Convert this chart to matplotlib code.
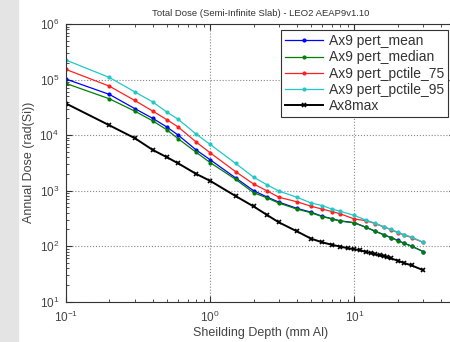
import numpy as np
import matplotlib
matplotlib.use('Agg')
import matplotlib.pyplot as plt
from matplotlib.patches import Rectangle

plt.rcParams['font.family'] = ['Liberation Sans', 'DejaVu Sans']
plt.rcParams['mathtext.fontset'] = 'custom'
plt.rcParams['mathtext.rm'] = 'Liberation Sans'

# depths (mm Al)
depth_ae9 = [0.1, 0.2, 0.3, 0.4, 0.5, 0.6, 0.8, 1, 1.5, 2, 2.5, 3, 4, 5, 6, 7, 8,
             10, 12, 14, 16, 18, 20, 22, 25, 30]
depth_ae8 = [0.1, 0.2, 0.3, 0.4, 0.5, 0.6, 0.8, 1, 1.5, 2, 2.5, 3, 4, 5, 6, 7, 8,
             9, 10, 11, 12, 13, 14, 15, 16, 17, 18, 20, 22, 25, 30]

# annual dose (rad(Si))
mean = [1.02e5, 5.4e4, 3.0e4, 2.0e4, 1.4e4, 1.0e4, 5.4e3, 3.6e3, 1.7e3, 1.0e3, 760, 620,
        480, 410, 345, 312, 285, 265, 220, 186, 161, 143, 127, 114, 100, 80]
median = [8.5e4, 4.5e4, 2.7e4, 1.8e4, 1.25e4, 8.6e3, 4.9e3, 3.2e3, 1.6e3, 920, 733, 596,
          465, 400, 340, 309, 282, 263, 219, 185, 160, 142, 126, 113, 100, 80]
pctile_75 = [1.52e5, 7.6e4, 4.2e4, 2.7e4, 1.9e4, 1.4e4, 7.5e3, 4.8e3, 2.2e3, 1.32e3, 980, 760,
             630, 525, 465, 420, 382, 309, 288, 255, 222, 198, 176, 160, 143, 117]
pctile_95 = [2.24e5, 1.09e5, 6.0e4, 3.95e4, 2.6e4, 1.93e4, 1.04e4, 6.8e3, 3.1e3, 1.75e3, 1.26e3, 980,
             760, 600, 537, 465, 425, 357, 296, 258, 224, 200, 178, 162, 145, 118]
ae8max = [3.7e4, 1.5e4, 8.8e3, 5.4e3, 4.0e3, 3.1e3, 2.0e3, 1.5e3, 800, 520, 360, 268,
          185, 137, 117, 106, 98, 92, 88, 84, 79, 75, 72, 68, 66, 63, 60, 55, 50, 45, 37]

fig = plt.figure(figsize=(4.5, 3.42), dpi=100)
fig.patches.append(Rectangle((0, 0), 18 / 450, 1, transform=fig.transFigure,
                             color='#e4e4e4', zorder=-1))

ax = fig.add_axes([66 / 450, 1 - 301.7 / 342, (455 - 66) / 450, (301.7 - 24) / 342])

ax.plot(depth_ae9, mean, '.-', color='#0000ff', lw=0.9, ms=4, label='Ax9 pert_mean')
ax.plot(depth_ae9, median, '.-', color='#008000', lw=0.9, ms=4, label='Ax9 pert_median')
ax.plot(depth_ae9, pctile_75, '.-', color='#ff2020', lw=0.9, ms=4, label='Ax9 pert_pctile_75')
ax.plot(depth_ae9, pctile_95, '.-', color='#20c8c8', lw=0.9, ms=4, label='Ax9 pert_pctile_95')
ax.plot(depth_ae8, ae8max, 'x-', color='black', lw=1.4, ms=3.5, mew=1.2, label='Ax8max')

ax.set_xscale('log')
ax.set_yscale('log')
ax.set_xlim(0.1, 50)
ax.set_ylim(10, 1e6)
ax.set_xticks([0.1, 1, 10])
ax.set_yticks([10, 100, 1e3, 1e4, 1e5, 1e6])
ax.grid(True, which='major', ls=':', color='#888888', lw=0.8)
ax.tick_params(which='both', direction='in', top=True, right=True, colors='#333333',
               labelsize=8.5, labelcolor='#444444')
ax.tick_params(which='major', length=4)
ax.tick_params(which='minor', length=2)
ax.tick_params(axis='x', which='major', pad=6)
ax.tick_params(axis='y', which='major', pad=5)
for s in ax.spines.values():
    s.set_color('#333333')

ax.set_title('Total Dose (Semi-Infinite Slab) - LEO2 AEAP9v1.10', fontsize=6.8, color='#333333', pad=6)
ax.set_xlabel('Sheilding Depth (mm Al)', fontsize=9, color='#444444', labelpad=1)
ax.set_ylabel('Annual Dose (rad(Si))', fontsize=9, color='#444444', labelpad=3)

leg = ax.legend(loc='upper left', bbox_to_anchor=(281 / 450, 1 - 30 / 342),
                bbox_transform=fig.transFigure, fontsize=10, fancybox=False,
                framealpha=1, edgecolor='#333333', borderaxespad=0, handlelength=2.7,
                handletextpad=0.45, labelspacing=0.16, borderpad=0.3)
leg.get_frame().set_linewidth(0.8)
for t in leg.get_texts():
    t.set_color('#333333')

fig.savefig('out.png', dpi=100)
